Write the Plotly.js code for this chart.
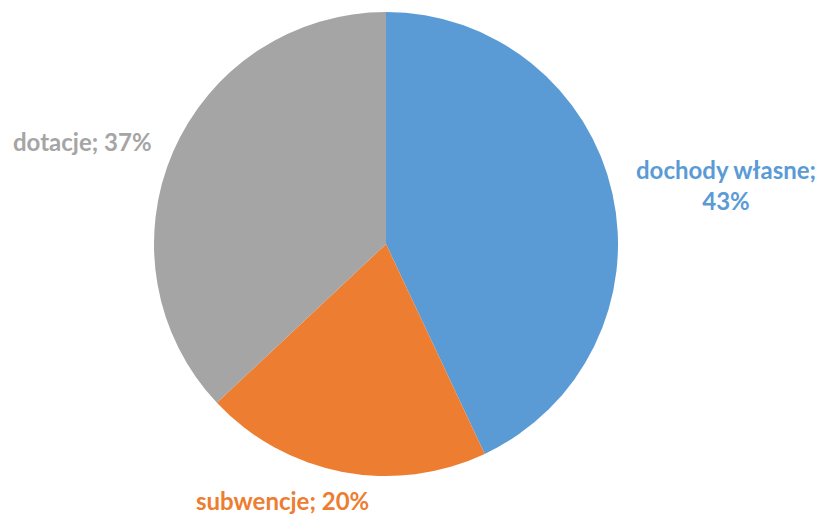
<!DOCTYPE html>
<html>
<head>
<meta charset="utf-8">
<script src="https://cdn.plot.ly/plotly-3.0.1.min.js"></script>
<style>html,body{margin:0;padding:0;background:#fff;}#chart{width:824px;height:515px;}</style>
</head>
<body>
<div id="chart"></div>
<script>
const categories = ["dochody własne", "subwencje", "dotacje"];
const shares = [43, 20, 37];
const colors = ["#5B9BD5", "#ED7D31", "#A5A5A5"];

const labelPos = [
  {x: 0.881, y: 0.641, text: categories[0] + ";<br>" + shares[0] + "%"},
  {x: 0.343, y: 0.029, text: categories[1] + "; " + shares[1] + "%"},
  {x: 0.100, y: 0.726, text: categories[2] + "; " + shares[2] + "%"}
];

const trace = {
  type: "pie",
  labels: categories,
  values: shares,
  sort: false,
  direction: "clockwise",
  rotation: 0,
  marker: {colors: colors, line: {width: 0}},
  textinfo: "none",
  hoverinfo: "label+percent",
  domain: {x: [0.1869, 0.75], y: [0.0757, 0.9767]},
  showlegend: false
};

const layout = {
  width: 824, height: 515,
  margin: {l: 0, r: 0, t: 0, b: 0},
  paper_bgcolor: "#fff",
  showlegend: false,
  annotations: labelPos.map((p, i) => ({
    xref: "paper", yref: "paper", x: p.x, y: p.y,
    xanchor: "center", yanchor: "middle",
    text: "<b>" + p.text + "</b>", showarrow: false, align: "center",
    font: {family: "Lato, 'Open Sans', sans-serif", size: 24, color: colors[i]}
  }))
};

Plotly.newPlot("chart", [trace], layout, {displayModeBar: false, staticPlot: true});
</script>
</body>
</html>
